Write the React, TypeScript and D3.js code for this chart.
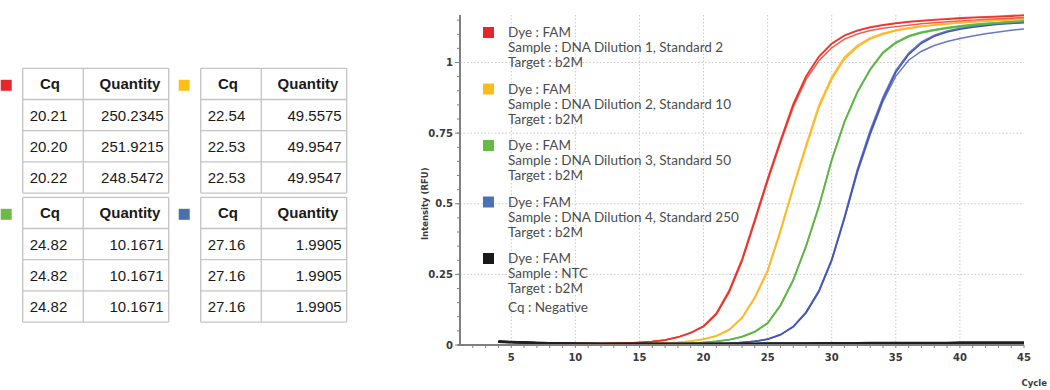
import * as d3 from 'd3'

// cycles 4..45
const cycles = d3.range(4, 46)

const red1 = [
  0.011, 0.01, 0.009, 0.008, 0.007, 0.006, 0.005, 0.005, 0.005, 0.006,
  0.007, 0.009, 0.012, 0.018, 0.028, 0.043, 0.066, 0.11, 0.19, 0.3,
  0.44, 0.585, 0.72, 0.85, 0.95, 1.02, 1.066, 1.095, 1.112, 1.124,
  1.132, 1.138, 1.143, 1.147, 1.15, 1.153, 1.156, 1.158, 1.16, 1.162,
  1.164, 1.166,
]
const red2 = [
  0.012, 0.01, 0.009, 0.008, 0.007, 0.006, 0.006, 0.005, 0.005, 0.006,
  0.007, 0.009, 0.012, 0.017, 0.027, 0.042, 0.065, 0.108, 0.186, 0.296,
  0.436, 0.58, 0.715, 0.842, 0.94, 1.006, 1.052, 1.083, 1.101, 1.113,
  1.121, 1.127, 1.132, 1.137, 1.141, 1.144, 1.147, 1.15, 1.153, 1.155,
  1.157, 1.159,
]
const red3 = [
  0.011, 0.01, 0.009, 0.008, 0.007, 0.006, 0.005, 0.005, 0.005, 0.006,
  0.007, 0.009, 0.012, 0.018, 0.028, 0.044, 0.068, 0.113, 0.194, 0.305,
  0.446, 0.59, 0.726, 0.855, 0.953, 1.022, 1.068, 1.097, 1.114, 1.126,
  1.134, 1.14, 1.145, 1.149, 1.152, 1.155, 1.158, 1.16, 1.162, 1.164,
  1.166, 1.168,
]
const yellow1 = [
  0.01, 0.009, 0.008, 0.007, 0.006, 0.005, 0.004, 0.004, 0.004, 0.004,
  0.004, 0.005, 0.006, 0.007, 0.009, 0.013, 0.02, 0.032, 0.053, 0.095,
  0.166, 0.26, 0.4, 0.555, 0.7, 0.84, 0.94, 1.012, 1.055, 1.083,
  1.1, 1.112, 1.12, 1.127, 1.132, 1.136, 1.14, 1.143, 1.146, 1.149,
  1.151, 1.153,
]
const yellow2 = [
  0.011, 0.009, 0.008, 0.007, 0.006, 0.005, 0.005, 0.004, 0.004, 0.004,
  0.004, 0.005, 0.006, 0.007, 0.01, 0.014, 0.021, 0.033, 0.055, 0.098,
  0.17, 0.266, 0.408, 0.563, 0.71, 0.85, 0.95, 1.02, 1.061, 1.088,
  1.104, 1.115, 1.123, 1.129, 1.134, 1.138, 1.142, 1.145, 1.148, 1.151,
  1.153, 1.155,
]
const yellow3 = [
  0.01, 0.009, 0.008, 0.007, 0.006, 0.005, 0.004, 0.004, 0.004, 0.004,
  0.004, 0.005, 0.006, 0.007, 0.009, 0.013, 0.02, 0.032, 0.053, 0.096,
  0.168, 0.263, 0.404, 0.558, 0.704, 0.845, 0.945, 1.016, 1.058, 1.085,
  1.102, 1.113, 1.121, 1.128, 1.133, 1.137, 1.141, 1.144, 1.147, 1.15,
  1.152, 1.154,
]
const green1 = [
  0.01, 0.009, 0.008, 0.007, 0.006, 0.005, 0.004, 0.004, 0.003, 0.003,
  0.003, 0.003, 0.004, 0.004, 0.005, 0.006, 0.009, 0.013, 0.019, 0.029,
  0.047, 0.077, 0.14, 0.23, 0.35, 0.49, 0.655, 0.79, 0.895, 0.975,
  1.035, 1.07, 1.093, 1.106, 1.115, 1.122, 1.128, 1.133, 1.137, 1.141,
  1.144, 1.147,
]
const green2 = [
  0.011, 0.009, 0.008, 0.007, 0.006, 0.005, 0.005, 0.004, 0.003, 0.003,
  0.003, 0.003, 0.004, 0.004, 0.005, 0.006, 0.009, 0.013, 0.019, 0.03,
  0.048, 0.078, 0.142, 0.232, 0.353, 0.494, 0.658, 0.793, 0.897, 0.977,
  1.037, 1.072, 1.095, 1.108, 1.117, 1.124, 1.13, 1.135, 1.139, 1.142,
  1.145, 1.148,
]
const green3 = [
  0.01, 0.009, 0.008, 0.007, 0.006, 0.005, 0.004, 0.004, 0.003, 0.003,
  0.003, 0.003, 0.004, 0.004, 0.005, 0.006, 0.008, 0.012, 0.018, 0.028,
  0.046, 0.076, 0.138, 0.228, 0.348, 0.488, 0.652, 0.788, 0.893, 0.973,
  1.033, 1.068, 1.091, 1.104, 1.113, 1.12, 1.126, 1.131, 1.135, 1.139,
  1.142, 1.145,
]
const blue1 = [
  0.011, 0.01, 0.009, 0.008, 0.006, 0.005, 0.004, 0.004, 0.003, 0.003,
  0.003, 0.003, 0.003, 0.003, 0.003, 0.004, 0.004, 0.005, 0.006, 0.009,
  0.013, 0.02, 0.036, 0.065, 0.115, 0.19, 0.3, 0.45, 0.615, 0.75,
  0.87, 0.965, 1.028, 1.068, 1.093, 1.108, 1.118, 1.125, 1.13, 1.135,
  1.138, 1.141,
]
const blue2 = [
  0.012, 0.01, 0.009, 0.008, 0.006, 0.005, 0.005, 0.004, 0.003, 0.003,
  0.003, 0.003, 0.003, 0.003, 0.003, 0.004, 0.004, 0.005, 0.006, 0.009,
  0.013, 0.021, 0.037, 0.066, 0.117, 0.193, 0.304, 0.456, 0.622, 0.76,
  0.878, 0.972, 1.034, 1.073, 1.097, 1.112, 1.121, 1.128, 1.133, 1.137,
  1.14, 1.143,
]
const blue3 = [
  0.011, 0.01, 0.009, 0.008, 0.006, 0.005, 0.004, 0.004, 0.003, 0.003,
  0.003, 0.003, 0.003, 0.003, 0.003, 0.004, 0.004, 0.005, 0.006, 0.009,
  0.013, 0.02, 0.036, 0.064, 0.113, 0.188, 0.298, 0.448, 0.61, 0.744,
  0.862, 0.952, 1.008, 1.04, 1.06, 1.074, 1.085, 1.094, 1.102, 1.108,
  1.114, 1.119,
]
const ntc1 = [
  0.013, 0.011, 0.009, 0.008, 0.007, 0.006, 0.005, 0.005, 0.004, 0.004,
  0.004, 0.004, 0.004, 0.004, 0.004, 0.004, 0.004, 0.004, 0.004, 0.004,
  0.004, 0.005, 0.005, 0.005, 0.005, 0.005, 0.005, 0.006, 0.006, 0.006,
  0.006, 0.006, 0.006, 0.006, 0.007, 0.007, 0.007, 0.007, 0.007, 0.007,
  0.007, 0.007,
]
const ntc2 = [
  0.011, 0.01, 0.008, 0.007, 0.006, 0.005, 0.004, 0.004, 0.003, 0.003,
  0.003, 0.003, 0.003, 0.003, 0.003, 0.003, 0.003, 0.003, 0.003, 0.003,
  0.003, 0.003, 0.004, 0.004, 0.004, 0.004, 0.004, 0.004, 0.004, 0.005,
  0.005, 0.005, 0.005, 0.005, 0.005, 0.005, 0.005, 0.005, 0.005, 0.005,
  0.005, 0.005,
]
const ntc3 = [
  0.012, 0.01, 0.009, 0.008, 0.007, 0.006, 0.005, 0.005, 0.005, 0.005,
  0.005, 0.005, 0.005, 0.005, 0.005, 0.005, 0.005, 0.005, 0.005, 0.005,
  0.005, 0.006, 0.006, 0.006, 0.006, 0.007, 0.007, 0.007, 0.007, 0.008,
  0.008, 0.008, 0.008, 0.008, 0.008, 0.008, 0.009, 0.009, 0.009, 0.009,
  0.009, 0.009,
]

const groups = [
  { color: '#4257b5', legend: '#4a72b5', reps: [blue1, blue2, blue3], sample: 'DNA Dilution 4, Standard 250' },
  { color: '#5cb545', legend: '#66bb44', reps: [green1, green2, green3], sample: 'DNA Dilution 3, Standard 50' },
  { color: '#fcb928', legend: '#fdbb18', reps: [yellow1, yellow2, yellow3], sample: 'DNA Dilution 2, Standard 10' },
  { color: '#e8352b', legend: '#e8262a', reps: [red1, red2, red3], sample: 'DNA Dilution 1, Standard 2' },
  { color: '#1e1e1e', legend: '#1a1a1a', reps: [ntc1, ntc2, ntc3], sample: 'NTC' },
]
const legendOrder = [3, 2, 1, 0, 4]

// tables: red, yellow, green, blue
const tableColors = ['#e5262b', '#fcbf17', '#6cbb45', '#4b70ae']
const cqValues = [
  [20.21, 20.2, 20.22],
  [22.54, 22.53, 22.53],
  [24.82, 24.82, 24.82],
  [27.16, 27.16, 27.16],
]
const quantities = [
  [250.2345, 251.9215, 248.5472],
  [49.5575, 49.9547, 49.9547],
  [10.1671, 10.1671, 10.1671],
  [1.9905, 1.9905, 1.9905],
]

const yTicks = [0, 0.25, 0.5, 0.75, 1]
const xTicks = [5, 10, 15, 20, 25, 30, 35, 40, 45]

function ResultTable({ i, left, top }: { i: number; left: number; top: number }) {
  const rowH = 31.2
  const c1 = 60.6
  const c2 = 85.4
  const rows = d3.range(5).map((r) => top + r * rowH)
  const fmtQ = d3.format('.4f')
  const fmtC = d3.format('.2f')
  const txt = { fontFamily: 'Liberation Sans, Arial, sans-serif', fontSize: 15, fill: '#1a1a1a' }
  return (
    <g>
      <rect x={left - 22} y={top + 11.5} width={11} height={11} fill={tableColors[i]} />
      {rows.map((ry, r) => (
        <line key={r} x1={left} x2={left + c1 + c2} y1={ry} y2={ry} stroke="#c4c4c4" strokeWidth={1.3} />
      ))}
      {[left, left + c1, left + c1 + c2].map((cx, k) => (
        <line key={k} x1={cx} x2={cx} y1={top} y2={top + 4 * rowH} stroke="#c4c4c4" strokeWidth={1.3} />
      ))}
      <text {...txt} fontWeight="bold" x={left + c1 / 2 - 3} y={top + rowH / 2 + 5.5} textAnchor="middle">Cq</text>
      <text {...txt} fontWeight="bold" x={left + c1 + c2 / 2 + 4} y={top + rowH / 2 + 5.5} textAnchor="middle">Quantity</text>
      {cqValues[i].map((v, r) => (
        <text key={'c' + r} {...txt} x={left + 7} y={top + (r + 1) * rowH + rowH / 2 + 5.5}>{fmtC(v)}</text>
      ))}
      {quantities[i].map((v, r) => (
        <text key={'q' + r} {...txt} x={left + c1 + c2 - 5} y={top + (r + 1) * rowH + rowH / 2 + 5.5} textAnchor="end">{fmtQ(v)}</text>
      ))}
    </g>
  )
}

export default function App() {
  const x = d3.scaleLinear([1, 45], [460, 1024])
  const y = d3.scaleLinear([0, 1], [345, 62.5])
  const yTop = 15
  const line = d3
    .line<number>()
    .x((_, i) => x(cycles[i]))
    .y((d) => y(d))
  const minorY = d3.range(0, 1.16, 0.05)
  const minorX = d3.range(2, 46)
  const legendY = d3.scaleLinear([0, 4], [32.5, 258.5])
  const tick = { fontFamily: 'DejaVu Sans, sans-serif', fontSize: 10, fontWeight: 'bold', fill: '#3a3a3a' }
  const leg = { fontFamily: 'Lato, sans-serif', fontSize: 13.5, fill: '#4d4d4d' }

  return (
    <svg width={1050} height={390} style={{ position: 'absolute', left: 0, top: 0, background: '#fff' }}>
      {/* tables */}
      <ResultTable i={0} left={22.7} top={68.3} />
      <ResultTable i={1} left={200.7} top={68.3} />
      <ResultTable i={2} left={22.7} top={197.3} />
      <ResultTable i={3} left={200.7} top={197.3} />

      {/* grid */}
      {xTicks.slice(0, -1).map((t) => (
        <line key={t} x1={x(t)} x2={x(t)} y1={yTop} y2={y(0)} stroke="#c8c8c8" strokeDasharray="1.5 2" />
      ))}
      {yTicks.slice(1).map((t) => (
        <line key={t} x1={x(1)} x2={x(45)} y1={y(t)} y2={y(t)} stroke="#c8c8c8" strokeDasharray="1.5 2" />
      ))}

      {/* curves */}
      {groups.map((g, gi) =>
        g.reps.map((r, ri) => (
          <path
            key={gi + '-' + ri}
            d={line(r) || undefined}
            fill="none"
            stroke={g.color}
            strokeWidth={gi === 4 ? 2.2 : 1.5}
            strokeOpacity={gi === 4 ? 1 : ri === 0 ? 1 : 0.8}
          />
        ))
      )}

      {/* axes */}
      <line x1={x(1)} x2={x(1)} y1={yTop} y2={y(0)} stroke="#808080" strokeWidth={2} />
      <line x1={x(1) - 2} x2={x(45)} y1={y(0)} y2={y(0)} stroke="#808080" strokeWidth={2} />
      {minorY.map((t) => (
        <line key={t} x1={x(1) - 3} x2={x(1)} y1={y(t)} y2={y(t)} stroke="#808080" />
      ))}
      {yTicks.map((t) => (
        <g key={t}>
          <line x1={x(1) - 5} x2={x(1)} y1={y(t)} y2={y(t)} stroke="#808080" />
          <text {...tick} x={x(1) - 7} y={y(t) + 3.5} textAnchor="end">{t}</text>
        </g>
      ))}
      {minorX.map((t) => (
        <line key={t} x1={x(t)} x2={x(t)} y1={y(0)} y2={y(0) + 3} stroke="#808080" />
      ))}
      {xTicks.map((t) => (
        <text key={t} {...tick} x={x(t)} y={y(0) + 16} textAnchor="middle">{t}</text>
      ))}
      <text {...tick} fontSize={8.5} transform={`translate(428,${y(0.5)}) rotate(-90)`} textAnchor="middle">Intensity (RFU)</text>
      <text {...tick} fontSize={8.5} x={1047} y={386} textAnchor="end">Cycle</text>

      {/* legend */}
      {legendOrder.map((gi, k) => {
        const g = groups[gi]
        const cy = legendY(k)
        const lines = ['Dye : FAM', 'Sample : ' + g.sample, 'Target : b2M']
        return (
          <g key={k}>
            <rect x={483} y={cy - 5.5} width={11} height={11} fill={g.legend} />
            {lines.map((s, j) => (
              <text key={j} {...leg} x={508} y={cy + j * 15.2 + 4.5}>{s}</text>
            ))}
            {gi === 4 && <text {...leg} x={508} y={cy + 49 + 4.5}>Cq : Negative</text>}
          </g>
        )
      })}
    </svg>
  )
}
